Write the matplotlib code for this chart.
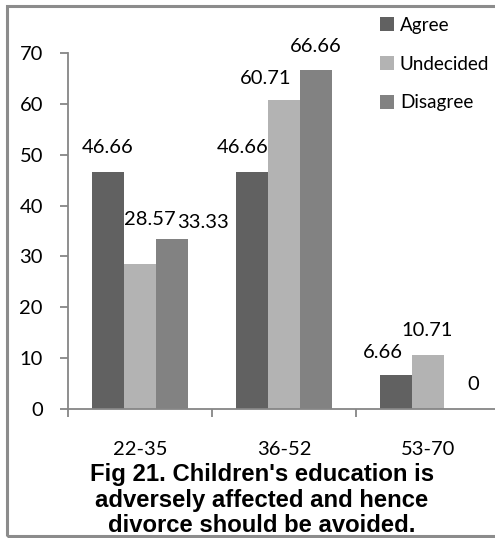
import matplotlib
matplotlib.use("Agg")
import matplotlib.pyplot as plt
from matplotlib.patches import Rectangle
import numpy as np

categories = ["22-35", "36-52", "53-70"]
series_names = ["Agree", "Undecided", "Disagree"]
agree = [46.66, 46.66, 6.66]
undecided = [28.57, 60.71, 10.71]
disagree = [33.33, 66.66, 0]
y_ticks = [0, 10, 20, 30, 40, 50, 60, 70]
caption = "Fig 21. Children's education is\nadversely affected and hence\ndivorce should be avoided."

colors = ["#616161", "#b3b3b3", "#828282"]
# label offsets in pixels (dx, dy to label centre above bar top)
label_dx = [[0, 10, 31], [-9, -18, 0], [-13, -1, 13]]
label_dy = [[24, 44, 17], [24, 22, 23], [23, 24, 24]]

W, H = 495, 538
fig = plt.figure(figsize=(W / 100, H / 100), dpi=100)
fig.patch.set_facecolor("white")

ax = fig.add_axes([68 / W, (H - 409) / H, 432 / W, (409 - 53) / H])
ax.set_facecolor("none")

font = "Lato"
fs = 14.5
axis_col = "#868686"

x = np.arange(len(categories))
bw = 0.2222
series = [agree, undecided, disagree]
for i, (vals, name, c) in enumerate(zip(series, series_names, colors)):
    pos = x + (i - 1) * bw
    bars = ax.bar(pos, vals, width=bw, color=c, label=name, zorder=2)
    for j, (p, v) in enumerate(zip(pos, vals)):
        ax.annotate(f"{v:g}" if v != 0 else "0", xy=(p, v), xytext=(label_dx[j][i], label_dy[j][i]),
                    textcoords="offset pixels", ha="center", va="center",
                    fontsize=fs, family=font, color="black")

ax.set_xlim(-0.5, 2.5)
ax.set_ylim(0, 70)
ax.set_yticks(y_ticks)
ax.set_yticklabels([str(t) for t in y_ticks], family=font, fontsize=fs)
ax.set_xticks(x)
ax.set_xticklabels(categories, family=font, fontsize=fs)
ax.tick_params(axis="x", length=0, pad=23)
ax.set_xticks([-0.5, 0.5, 1.5], minor=True)
ax.tick_params(axis="x", which="minor", length=6, color=axis_col, width=1.3, direction="out")
ax.tick_params(axis="y", length=6, color=axis_col, width=1.3, pad=12)

for s in ["top", "right"]:
    ax.spines[s].set_visible(False)
for s in ["left", "bottom"]:
    ax.spines[s].set_color(axis_col)
    ax.spines[s].set_linewidth(1.3)

leg = ax.legend(loc="upper left", bbox_to_anchor=(380 / W, (H - 17) / H), bbox_transform=fig.transFigure,
                frameon=False, prop={"family": font, "size": 13.6}, handlelength=0.75, handleheight=0.75,
                handletextpad=0.3, labelspacing=1.15, borderaxespad=0, borderpad=0)

fig.text(262 / W, (H - 500) / H, caption, ha="center", va="center", family="Liberation Sans",
         fontweight="bold", fontsize=17.2, linespacing=1.12)

fig.patches.append(Rectangle((7 / W, 2 / H), 1.2, (530) / H, transform=fig.transFigure,
                             fill=False, edgecolor="#8c8c8c", linewidth=2.2, figure=fig))

fig.savefig("out.png", dpi=100)
